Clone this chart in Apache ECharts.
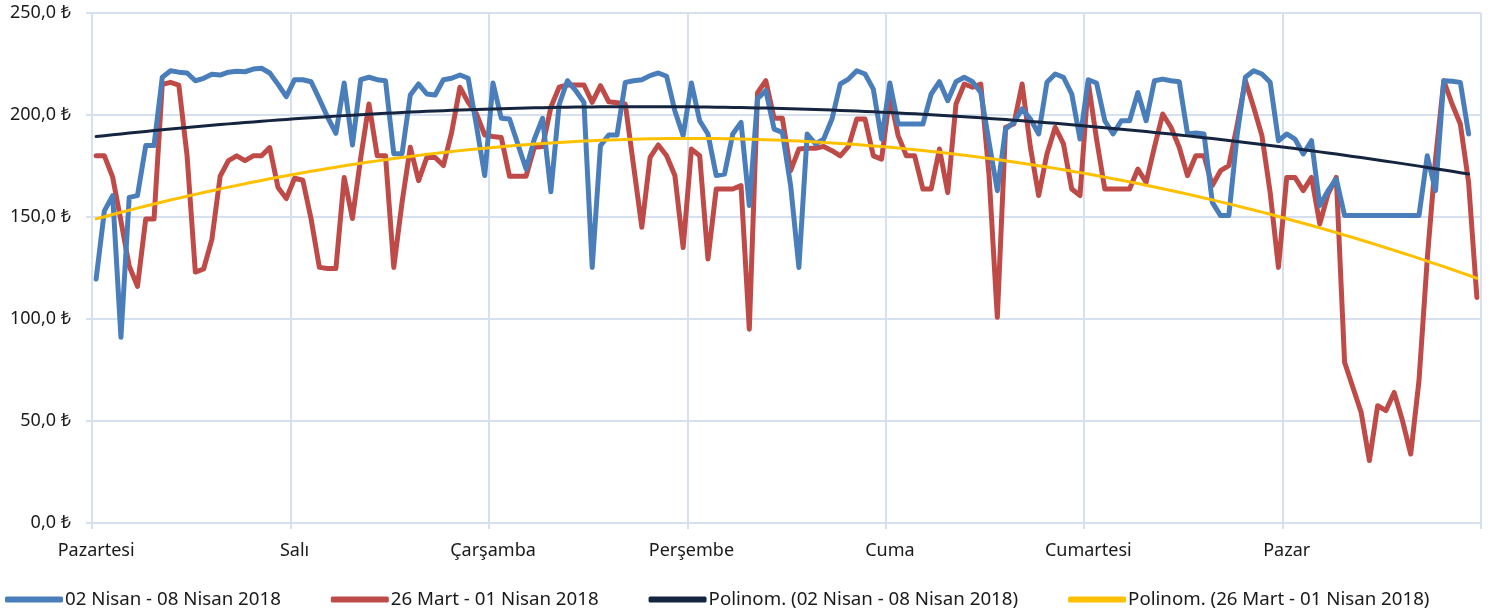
<!DOCTYPE html>
<html>
<head>
<meta charset="utf-8">
<script src="https://cdn.jsdelivr.net/npm/echarts@6/dist/echarts.min.js"></script>
<style>
  html, body { margin: 0; padding: 0; background: #fff; }
  #main { width: 1492px; height: 616px; }
</style>
</head>
<body>
<div id="main"></div>
<script>
// gün adları, her gün 24 saat
var days = ['Pazartesi', 'Salı', 'Çarşamba', 'Perşembe', 'Cuma', 'Cumartesi', 'Pazar'];
var hoursPerDay = 24;

// 02 Nisan - 08 Nisan 2018 (son saat yok)
var nisan = [
  119.6, 153, 160.5, 91, 159.6, 160.5, 185, 185, 218.5, 221.7, 221, 220.6, 216.8, 218, 220, 219.6, 221, 221.4, 221.2, 222.5, 222.9, 220.6, 215, 209,
  217.3, 217.3, 216.3, 207.8, 198.9, 191, 215.7, 185.3, 217.3, 218.5, 217.3, 216.8, 181, 181, 209.8, 215.2, 210.3, 209.8, 217.3, 218, 219.6, 218, 194.8, 170.3,
  215.7, 198.4, 198, 185.8, 173.5, 188.2, 198.4, 162.4, 205, 216.8, 212, 206.2, 125.3, 185, 190.2, 190.2, 216, 216.8, 217.3, 219.3, 220.6, 219, 202, 189.9,
  215.7, 197.2, 190.7, 170.3, 171, 190.7, 196.4, 155.6, 208, 212, 193.1, 191.5, 165.4, 125.3, 190.7, 185.8, 188.2, 198, 215.2, 217.6, 221.7, 220.1, 212.7, 188.2,
  215.7, 195.6, 195.6, 195.6, 195.6, 210.3, 216.3, 207, 216.3, 218.5, 216.3, 211, 186.6, 162.9, 193.1, 196.4, 203, 198, 190.7, 216, 220.1, 218.5, 210.3, 188.2,
  217.3, 215.7, 197.2, 190.7, 197.2, 197.2, 211, 197.2, 216.8, 217.6, 216.8, 216.3, 190.7, 191.2, 190.7, 157.2, 150.7, 150.7, 190, 218.5, 221.7, 220.1, 216, 187.4,
  190.7, 188.2, 180.9, 187.4, 155.6, 162.9, 168.6, 150.7, 150.7, 150.7, 150.7, 150.7, 150.7, 150.7, 150.7, 150.7, 150.7, 180, 162.9, 216.8, 216.5, 216, 190.7
];

// 26 Mart - 01 Nisan 2018
var mart = [
  180, 180, 169.5, 148, 126, 116, 149, 149, 215, 216, 214.7, 180, 123, 124.5, 139, 170, 177.6, 180, 177.6, 180, 180, 184, 164.5, 159,
  169, 168, 149, 125.3, 124.8, 124.8, 169.4, 149.3, 179, 205.4, 180, 180, 125.3, 157.2, 184.2, 167.8, 179.2, 179.2, 175.2, 191.5, 213.6, 206.2, 200.5, 190.2,
  189.5, 189, 170, 170, 170, 184.2, 184.6, 203.8, 213.6, 214.7, 214.7, 214.7, 206.2, 214.4, 206.5, 206, 205.4, 175.2, 145, 179.2, 185.3, 180, 170.3, 135,
  183.3, 180, 129.4, 163.7, 163.7, 163.7, 165.4, 95, 211, 216.8, 198.4, 198.4, 172.7, 183.3, 183.7, 183.7, 184.6, 182.5, 180, 184.6, 198, 198, 180, 178.4,
  209.5, 189.9, 180, 180, 163.7, 163.7, 183.3, 162, 205.4, 215.2, 213.6, 215.2, 170.3, 100.8, 194, 195.6, 215.2, 184.2, 160.5, 180.9, 194, 185.8, 163.7, 160.5,
  216, 188.2, 163.7, 163.7, 163.7, 163.7, 173.5, 167, 184.2, 200.5, 194, 184.2, 170.3, 180, 180, 165.4, 172.7, 175.2, 194.8, 216.8, 203.8, 189.9, 162, 125.3,
  169.4, 169.4, 162.9, 169.4, 146.6, 161.3, 169.4, 78.8, 66.5, 54.3, 30.6, 57.5, 55.1, 64, 50.2, 33.8, 69.8, 129.4, 178.4, 216.8, 205.4, 195.6, 167, 110.6
];

var yTicks = [0, 50, 100, 150, 200, 250];

var categories = [];
days.forEach(function (d) {
  for (var h = 0; h < hoursPerDay; h++) categories.push(d + ' ' + h + ':00');
});

// 2. derece polinom eğilim (en küçük kareler, x = 1..n)
function polyTrend(vals) {
  var n = vals.length, s = [0, 0, 0, 0, 0], t = [0, 0, 0];
  for (var i = 0; i < n; i++) {
    var x = i + 1, y = vals[i];
    s[0] += 1; s[1] += x; s[2] += x * x; s[3] += x * x * x; s[4] += x * x * x * x;
    t[0] += y; t[1] += x * y; t[2] += x * x * y;
  }
  var A = [[s[0], s[1], s[2], t[0]], [s[1], s[2], s[3], t[1]], [s[2], s[3], s[4], t[2]]];
  for (var c = 0; c < 3; c++) {
    for (var r = c + 1; r < 3; r++) {
      var f = A[r][c] / A[c][c];
      for (var k = c; k < 4; k++) A[r][k] -= f * A[c][k];
    }
  }
  var b = [0, 0, 0];
  for (var r2 = 2; r2 >= 0; r2--) {
    var sum = A[r2][3];
    for (var k2 = r2 + 1; k2 < 3; k2++) sum -= A[r2][k2] * b[k2];
    b[r2] = sum / A[r2][r2];
  }
  return vals.map(function (v, i) { var x = i + 1; return b[0] + b[1] * x + b[2] * x * x; });
}

var gridColor = '#d6e0ef';
var font = 'Noto Sans, DejaVu Sans, sans-serif';

var chart = echarts.init(document.getElementById('main'));
chart.setOption({
  animation: false,
  color: ['#4a7ebb', '#be4b48', '#16253f', '#ffc000'],
  textStyle: { fontFamily: font, color: '#1a1a1a' },
  grid: {
    left: 92, right: 11, top: 13, bottom: 93,
    show: true, borderColor: gridColor, borderWidth: 1
  },
  legend: {
    bottom: 2, left: 0,
    itemWidth: 58, itemHeight: 6, itemGap: 50,
    icon: 'roundRect',
    textStyle: { fontSize: 18.7, color: '#1a1a1a', padding: [0, 0, 0, -3] },
    data: ['02 Nisan - 08 Nisan 2018', '26 Mart - 01 Nisan 2018',
      'Polinom. (02 Nisan - 08 Nisan 2018)', 'Polinom. (26 Mart - 01 Nisan 2018)']
  },
  xAxis: {
    type: 'category',
    data: categories,
    boundaryGap: true,
    axisLine: { lineStyle: { color: gridColor, width: 2 } },
    axisTick: {
      show: true, length: 6,
      interval: function (i) { return i % hoursPerDay === 0; },
      lineStyle: { color: gridColor, width: 2 }
    },
    splitLine: {
      show: true,
      interval: function (i) { return i % hoursPerDay === 0; },
      lineStyle: { color: gridColor, width: 2 }
    },
    axisLabel: {
      interval: function (i) { return i % hoursPerDay === 0; },
      formatter: function (v) { return v.split(' ')[0]; },
      fontSize: 18, color: '#1a1a1a', margin: 19
    }
  },
  yAxis: {
    type: 'value',
    min: yTicks[0], max: yTicks[yTicks.length - 1], interval: 50,
    axisLine: { show: true, lineStyle: { color: gridColor, width: 2 } },
    axisTick: { show: true, length: 6, lineStyle: { color: gridColor, width: 2 } },
    splitLine: { lineStyle: { color: gridColor, width: 2 } },
    axisLabel: {
      fontSize: 18, color: '#1a1a1a', margin: 21,
      formatter: function (v) { return v.toFixed(1).replace('.', ',') + ' ₺'; }
    }
  },
  series: [
    {
      name: '02 Nisan - 08 Nisan 2018', type: 'line', data: nisan,
      symbol: 'none', z: 3,
      lineStyle: { width: 5, cap: 'round', join: 'round' }
    },
    {
      name: '26 Mart - 01 Nisan 2018', type: 'line', data: mart,
      symbol: 'none', z: 2,
      lineStyle: { width: 5, cap: 'round', join: 'round' }
    },
    {
      name: 'Polinom. (02 Nisan - 08 Nisan 2018)', type: 'line', data: polyTrend(nisan),
      symbol: 'none', z: 4,
      lineStyle: { width: 3, cap: 'round' }
    },
    {
      name: 'Polinom. (26 Mart - 01 Nisan 2018)', type: 'line', data: polyTrend(mart),
      symbol: 'none', z: 4,
      lineStyle: { width: 3, cap: 'round' }
    }
  ]
});
</script>
</body>
</html>
